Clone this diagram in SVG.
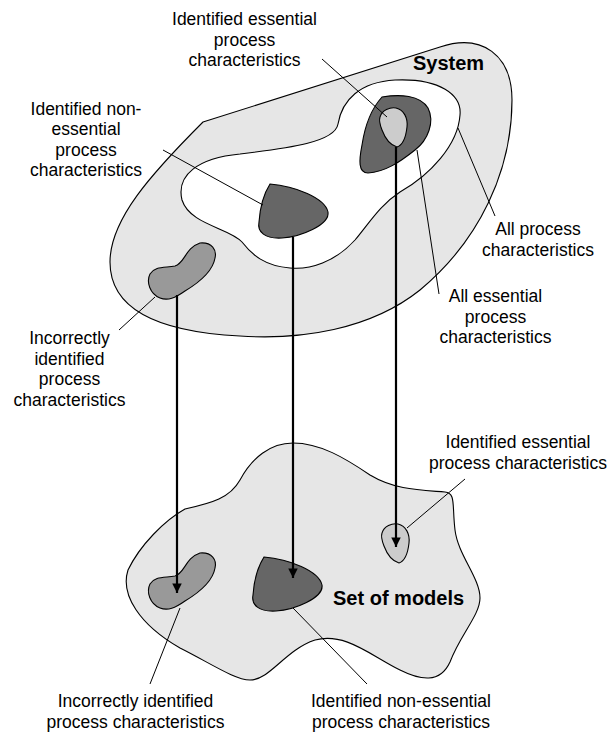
<svg xmlns="http://www.w3.org/2000/svg" width="611" height="734" viewBox="0 0 611 734">
<defs>
<style>
.lbl{font-family:"Liberation Sans",Arial,sans-serif;font-size:17.5px;fill:#000;text-anchor:middle}
.ttl{font-family:"Liberation Sans",Arial,sans-serif;font-size:20px;font-weight:bold;fill:#000}
.shape{stroke:#000;stroke-width:1.1}
.bg{fill:#e6e6e6}
.white{fill:#fff}
.dark{fill:#666}
.mid{fill:#999}
.light{fill:#ccc}
.lead{stroke:#000;stroke-width:1;fill:none}
.arr{stroke:#000;stroke-width:2.2;fill:none;marker-end:url(#ah)}
</style>
<marker id="ah" viewBox="0 0 10 10" refX="10" refY="5" markerWidth="7" markerHeight="4.3" markerUnits="strokeWidth" orient="auto">
<path d="M0,0 L10,5 L0,10 Z" fill="#000"/>
</marker>
<path id="blob" d="M200,243 C212,242 217,250 215,258 C213,270 200,282 185,291 C175,298 168,301 160,298 C150,294 146,282 150,274 C155,266 165,268 175,266 C185,263 185,248 200,243 Z"/>
<path id="nonEss" d="M270,184 C295,186 325,198 328,212 C330,225 300,237 282,238 C265,239 257,232 259,222 C260,208 263,195 270,184 Z"/>
<path id="ess" d="M380,117 C382,110 390,107 396,108 C404,110 408,118 407,127 C406,136 403,145 397,147 C390,145 385,138 382,130 C380,125 379,120 380,117 Z"/>
</defs>
<rect width="611" height="734" fill="#fff"/>

<g id="system">
<path class="shape bg" d="M203,122 L440,47 C482,33 512,55 512,100 C512,170 480,240 420,290 C370,330 300,340 240,336 C160,332 110,310 110,262 C110,220 150,175 203,122 Z"/>
<path class="shape white" d="M338,124 C342,100 360,82 395,80 C440,78 462,95 460,115 C458,145 430,175 400,192 C380,205 370,222 355,240 C335,262 310,270 290,268 C265,266 252,255 242,242 C230,228 190,225 182,200 C176,175 198,158 240,154 C290,148 335,142 338,124 Z"/>
<text class="ttl" x="413" y="70">System</text>
</g>

<g id="ess-region-system">
<path class="shape dark" d="M382,97 C400,94 420,95 428,108 C435,122 428,140 415,150 C400,162 385,172 368,173 C358,173 359,160 362,145 C365,125 372,108 382,97 Z"/>
<use href="#ess" class="shape light"/>
</g>

<g id="nonEss-system"><use href="#nonEss" class="shape dark"/></g>
<g id="incorrect-system"><use href="#blob" class="shape mid"/></g>

<g id="models">
<path class="shape bg" d="M293,443 C270,443 252,458 240,480 C230,498 212,503 185,509 C165,520 140,545 128,570 C120,595 140,625 180,648 C210,663 235,680 250,680 C270,680 285,650 315,640 C345,632 370,655 400,670 C420,680 440,684 450,662 C460,635 480,615 480,598 C480,578 458,555 455,530 C452,505 456,493 445,492 C420,490 395,490 370,475 C345,458 320,443 293,443 Z"/>
<text class="ttl" x="333" y="605">Set of models</text>
</g>
<g id="incorrect-models"><use href="#blob" class="shape mid" transform="translate(0,310)"/></g>
<g id="nonEss-models"><use href="#nonEss" class="shape dark" transform="translate(-6,373)"/></g>
<g id="ess-models"><use href="#ess" class="shape light" transform="translate(2,416)"/></g>

<g id="connectors">
<line class="arr" x1="177" y1="295" x2="177" y2="593"/>
<line class="arr" x1="293" y1="237" x2="293" y2="578"/>
<line class="arr" x1="396" y1="147" x2="396" y2="547"/>
<line class="lead" x1="322" y1="59" x2="387" y2="117"/>
<line class="lead" x1="163" y1="150" x2="263" y2="205"/>
<line class="lead" x1="458" y1="128" x2="495" y2="216"/>
<line class="lead" x1="417" y1="150" x2="439" y2="294"/>
<line class="lead" x1="119" y1="330" x2="155" y2="297"/>
<line class="lead" x1="465" y1="479" x2="407" y2="528"/>
<line class="lead" x1="150" y1="684" x2="180" y2="608"/>
<line class="lead" x1="367" y1="684" x2="293" y2="608"/>
</g>

<g id="labels">
<text class="lbl" x="244.5" y="25">Identified essential</text>
<text class="lbl" x="244.5" y="45.5">process</text>
<text class="lbl" x="244.5" y="66">characteristics</text>
<text class="lbl" x="86" y="114.5">Identified non-</text>
<text class="lbl" x="86" y="135">essential</text>
<text class="lbl" x="86" y="155.5">process</text>
<text class="lbl" x="86" y="176">characteristics</text>
<text class="lbl" x="538" y="235">All process</text>
<text class="lbl" x="538" y="255.5">characteristics</text>
<text class="lbl" x="495.5" y="302">All essential</text>
<text class="lbl" x="495.5" y="322.5">process</text>
<text class="lbl" x="495.5" y="343">characteristics</text>
<text class="lbl" x="69.5" y="344">Incorrectly</text>
<text class="lbl" x="69.5" y="364.5">identified</text>
<text class="lbl" x="69.5" y="385">process</text>
<text class="lbl" x="69.5" y="406">characteristics</text>
<text class="lbl" x="518" y="448">Identified essential</text>
<text class="lbl" x="518" y="469">process characteristics</text>
<text class="lbl" x="135.5" y="707">Incorrectly identified</text>
<text class="lbl" x="135.5" y="728">process characteristics</text>
<text class="lbl" x="401" y="707">Identified non-essential</text>
<text class="lbl" x="401" y="728">process characteristics</text>
</g>
</svg>
